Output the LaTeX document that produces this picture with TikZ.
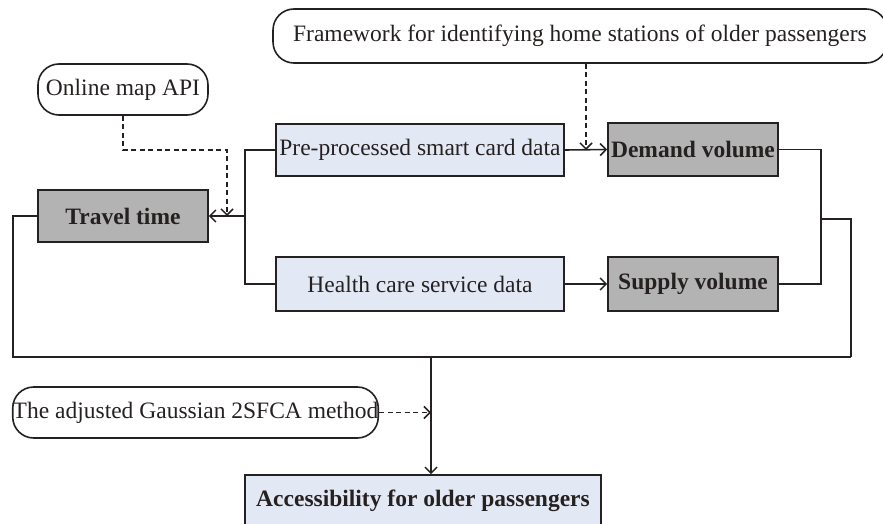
\documentclass[tikz,border=0pt]{standalone}
\usepackage{fontspec}
\setmainfont{Liberation Serif}
\usetikzlibrary{arrows.meta}
\definecolor{inputblue}{RGB}{227,232,245}
\definecolor{resultgray}{RGB}{179,179,179}
\definecolor{ink}{RGB}{38,33,33}
\tikzset{
  base/.style={draw=ink, line width=1.6pt, text=ink, inner sep=0pt,
    font=\fontsize{23.5}{28}\selectfont},
  databox/.style={base, fill=inputblue},
  resultbox/.style={base, fill=resultgray, font=\fontsize{23.5}{28}\selectfont\bfseries},
  sourcebox/.style={base, fill=white, rounded corners=21pt},
  wire/.style={draw=ink, line width=1.6pt},
  arr/.style={wire, -{Straight Barb[length=6pt,width=12pt,line width=1.5pt]}},
  dasharr/.style={arr, dash pattern=on 5pt off 3.5pt}
}
\begin{document}
\begin{tikzpicture}[x=1pt, y=-1pt]
\clip (0,0) rectangle (883,524);
\fill[white] (0,0) rectangle (883,524);

% source boxes
\node[sourcebox, minimum width=614pt, minimum height=54pt] (fw) at (580,36)
  {Framework for identifying home stations of older passengers};
\node[sourcebox, minimum width=170pt, minimum height=51pt] (api) at (123,89.5) {Online map API};
\node[sourcebox, minimum width=365pt, minimum height=51pt] (gauss) at (195.5,412.5) {The adjusted Gaussian 2SFCA method};

% data boxes
\node[databox, minimum width=288pt, minimum height=52pt] (smart) at (420,150) {Pre-processed smart card data};
\node[databox, minimum width=288pt, minimum height=54pt] (health) at (420,284) {Health care service data};

% derived quantities
\node[resultbox, minimum width=170pt, minimum height=53pt] (demand) at (693,149.5) {Demand volume};
\node[resultbox, minimum width=170pt, minimum height=54pt] (supply) at (693,284) {Supply volume};
\node[resultbox, minimum width=170pt, minimum height=52pt] (travel) at (123,216) {Travel time};

% final output
\node[databox, font=\fontsize{23.5}{28}\selectfont\bfseries, minimum width=356pt, minimum height=52pt] (acc) at (423,501)
  {Accessibility for older passengers};

% junction points
\coordinate (jL) at (245,216);
\coordinate (jR) at (821,219);
\coordinate (busL) at (13,357);
\coordinate (busR) at (851,357);
\coordinate (busM) at (431,357);
\coordinate (apiBend) at (227,150);
\coordinate (fwDrop) at (586,150);

% data inputs
\draw[wire] (smart.west) -| (jL) |- (health.west);
\draw[arr] (jL) -- (travel.east);
\draw[arr] (smart.east) -- (demand.west);
\draw[arr] (health.east) -- (supply.west);

% gathering into the model
\draw[wire] (demand.east) -| (jR) |- (supply.east);
\draw[wire] (busR) |- (jR);
\draw[wire] (travel.west) -| (busL) -- (busR);
\draw[arr] (busM) -- (busM |- acc.north);

% method inputs
\draw[dasharr] (api.south) |- (apiBend) -- (apiBend |- travel.east);
\draw[dasharr] (fwDrop |- fw.south) -- (fwDrop);
\draw[dasharr] (gauss.east) -- (busM |- gauss.east);
\end{tikzpicture}
\end{document}
